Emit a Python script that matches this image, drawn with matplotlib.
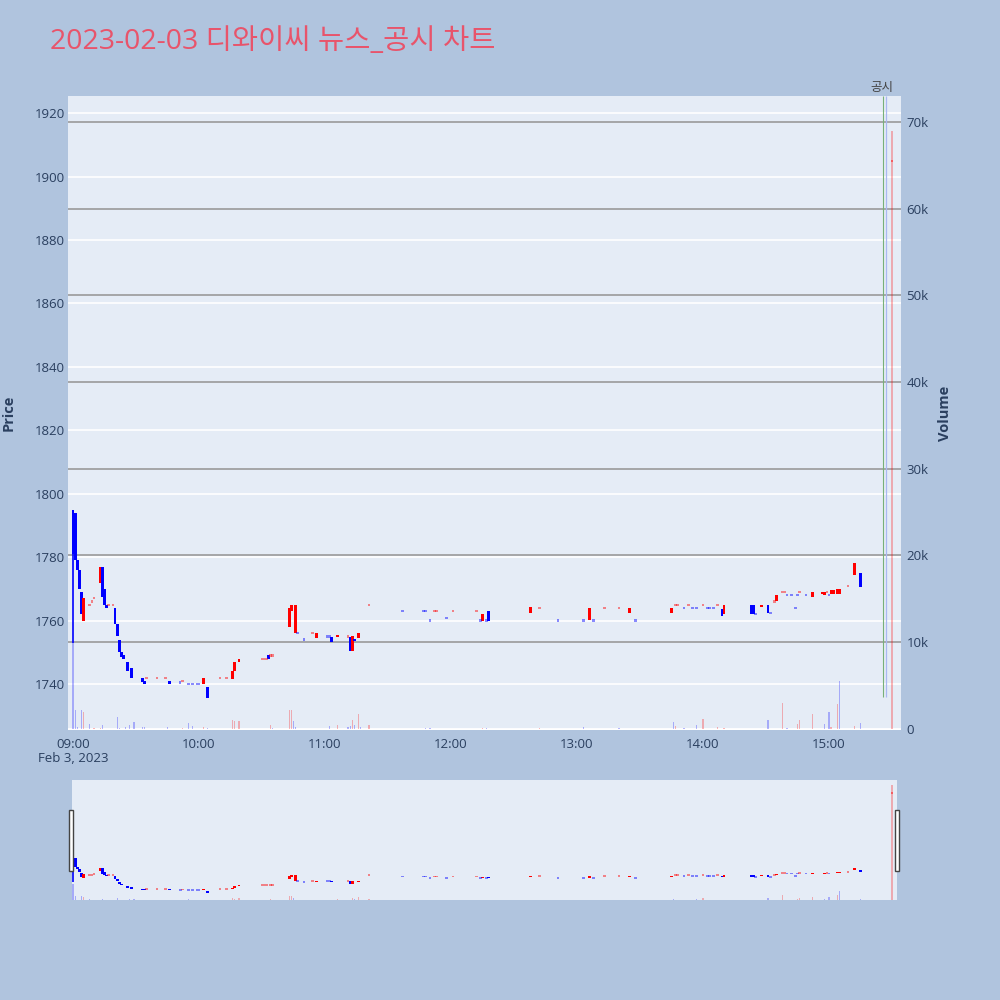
import numpy as np
import pandas as pd
import matplotlib
matplotlib.use('Agg')
import matplotlib.pyplot as plt
import matplotlib.dates as mdates
import matplotlib.transforms as mtransforms
from matplotlib.patches import Rectangle

plt.rcParams['font.family'] = ['Open Sans', 'Noto Sans CJK KR', 'DejaVu Sans']

DAY = '2023-02-03'
title = '2023-02-03 디와이씨 뉴스_공시 차트'

# 분봉 (시각, 시가, 종가, 방향)
c_time = ['09:00', '09:01', '09:02', '09:03', '09:04', '09:05', '09:08', '09:09', '09:10', '09:13',
          '09:14', '09:15', '09:16', '09:17', '09:19', '09:20', '09:21', '09:22', '09:23', '09:24',
          '09:26', '09:28', '09:33', '09:34', '09:35', '09:40', '09:44', '09:46', '09:51', '09:52',
          '09:55', '09:57', '09:59', '10:00', '10:02', '10:04', '10:10', '10:13', '10:16', '10:17',
          '10:19', '10:30', '10:31', '10:32', '10:33', '10:34', '10:35', '10:43', '10:44', '10:46',
          '10:47', '10:50', '10:54', '10:56', '11:01', '11:02', '11:03', '11:06', '11:11', '11:12',
          '11:13', '11:14', '11:16', '11:21', '11:37', '11:47', '11:48', '11:50', '11:52', '11:53',
          '11:58', '12:01', '12:12', '12:14', '12:15', '12:17', '12:18', '12:38', '12:42', '12:51',
          '13:03', '13:06', '13:08', '13:13', '13:20', '13:25', '13:28', '13:45', '13:47', '13:48',
          '13:51', '13:53', '13:55', '13:57', '14:00', '14:02', '14:03', '14:05', '14:07', '14:09',
          '14:10', '14:23', '14:24', '14:25', '14:28', '14:31', '14:32', '14:34', '14:35', '14:38',
          '14:39', '14:40', '14:42', '14:44', '14:45', '14:46', '14:49', '14:52', '14:57', '14:58',
          '14:59', '15:00', '15:01', '15:02', '15:04', '15:05', '15:09', '15:12', '15:15', '15:30']
c_open = [1795, 1794, 1779, 1776, 1769, 1760, 1765, 1766, 1767, 1772,
          1777, 1770, 1765, 1765, 1765, 1764, 1759, 1754, 1750, 1749,
          1747, 1745, 1742, 1741, 1742, 1742, 1742, 1741, 1740.5, 1741,
          1740, 1740, 1740, 1740, 1740, 1739, 1742, 1742, 1741.5, 1744,
          1747, 1748, 1748, 1748, 1749, 1749, 1749, 1758, 1763, 1756,
          1756, 1754, 1756, 1754.5, 1755, 1755, 1754.7, 1754.8, 1755, 1754.7,
          1750.5, 1754.3, 1754.4, 1765, 1763, 1763, 1763, 1760, 1763, 1763,
          1760.7, 1763, 1763, 1760, 1760, 1760, 1763, 1762.5, 1764, 1760,
          1760, 1760.3, 1760, 1764, 1764, 1762.5, 1760, 1762.5, 1765, 1765,
          1764, 1765, 1764, 1764, 1765, 1764, 1764, 1764, 1765, 1763.5,
          1762, 1765, 1765, 1762, 1764.2, 1765, 1762.5, 1766, 1766.3, 1769,
          1769, 1768, 1768, 1764, 1768, 1769, 1768, 1767.5, 1768.5, 1768,
          1769, 1768, 1768.5, 1768.5, 1768.4, 1768.4, 1771, 1774.4, 1775, 1905]
c_close = [1781, 1779, 1776, 1770, 1762, 1767, 1765, 1766, 1767, 1777,
           1767.5, 1765, 1764, 1765, 1765, 1759, 1755, 1750, 1748.5, 1748,
           1744, 1742, 1740.6, 1740, 1742, 1742, 1742, 1740, 1740.5, 1741,
           1740, 1740, 1740, 1740, 1742, 1735.5, 1742, 1742, 1744, 1747,
           1748, 1748, 1748, 1748, 1748, 1749, 1749, 1764, 1765, 1765,
           1756, 1754, 1756, 1756, 1755, 1755, 1753.3, 1755.6, 1755, 1750.5,
           1755, 1753.7, 1756.2, 1765, 1763, 1763, 1763, 1760, 1763, 1763,
           1760.7, 1763, 1763, 1760, 1762, 1760, 1760, 1764.3, 1764, 1760,
           1760, 1764, 1760, 1764, 1764, 1764, 1760, 1764, 1765, 1765,
           1764, 1765, 1764, 1764, 1765, 1764, 1764, 1764, 1765, 1761.6,
           1765, 1762, 1762, 1762, 1765, 1762.5, 1762.5, 1766, 1768, 1769,
           1769, 1768, 1768, 1764, 1768, 1769, 1768, 1769, 1769, 1769,
           1769, 1768, 1769.5, 1769.5, 1770, 1770, 1771, 1778, 1770.5, 1905]
c_dir = list('ddddduuuuu' 'ddduuddddd' 'dddduuuddu' 'dddduduuuu' 'uuuuduuuuu'
             'dduuddduud' 'uduudddduu' 'duududduud' 'duduuuduuu' 'duddudddud'
             'udddudduuu' 'udddduduuu' 'uduuuuuudu')

# 첫 봉 꼬리
wick_time = ['09:00']
wick_high = [1795]
wick_low = [1753]

# 거래량
v_time = ['09:00', '09:01', '09:02', '09:04', '09:05', '09:08', '09:10', '09:13', '09:14', '09:21',
          '09:22', '09:25', '09:27', '09:29', '09:33', '09:34', '09:45', '09:52', '09:55', '09:57',
          '10:02', '10:04', '10:16', '10:17', '10:19', '10:34', '10:35', '10:43', '10:44', '10:45',
          '10:46', '11:02', '11:06', '11:11', '11:12', '11:13', '11:14', '11:16', '11:17', '11:21',
          '11:48', '11:50', '12:15', '12:17', '12:42', '13:03', '13:20', '13:46', '13:47', '13:51',
          '13:57', '14:00', '14:07', '14:10', '14:31', '14:38', '14:40', '14:45', '14:46', '14:52',
          '14:58', '15:00', '15:01', '15:04', '15:05', '15:12', '15:15', '15:30']
v_value = [9900, 2150, 230, 2150, 1960, 540, 100, 100, 460, 1380,
           100, 230, 380, 800, 150, 120, 230, 80, 600, 300,
           230, 100, 1000, 850, 920, 460, 80, 2150, 2150, 920,
           150, 300, 460, 230, 300, 1000, 460, 1700, 150, 460,
           50, 50, 80, 80, 50, 200, 50, 700, 300, 100,
           400, 1060, 150, 100, 980, 2900, 100, 500, 1000, 1640,
           500, 1940, 200, 2800, 5500, 300, 670, 69000]
v_dir = list('dddduduudd' 'dddddddudd' 'uduuuuduud' 'dduddududu'
             'ddududddud' 'duuududuuu' 'dduududu')

# 공시 표시선
notice_time = '15:26'
notice_low = 1736
notice2_time = '15:27'

price_ticks = [1740, 1760, 1780, 1800, 1820, 1840, 1860, 1880, 1900, 1920]
vol_ticks = [0, 10000, 20000, 30000, 40000, 50000, 60000, 70000]
vol_labels = ['0', '10k', '20k', '30k', '40k', '50k', '60k', '70k']
hour_ticks = ['09:00', '10:00', '11:00', '12:00', '13:00', '14:00', '15:00']

RED = '#ff0000'
BLUE = '#0000ff'
BG = '#e5ecf6'
TXT = '#2a3f5f'
MIN = 1 / 1440


def tnum(ts):
    return mdates.date2num(pd.to_datetime([DAY + ' ' + t for t in ts]).to_pydatetime())


cx = tnum(c_time)
vx = tnum(v_time)
wx = tnum(wick_time)
t0 = tnum(['09:00'])[0]


def draw_candles(ax, flat_h):
    opens = np.array(c_open, dtype=float)
    closes = np.array(c_close, dtype=float)
    up = np.array(c_dir) == 'u'
    flat = opens == closes
    cols = np.where(up, RED, BLUE)
    body = ~flat
    ax.bar(cx[body], (closes - opens)[body], bottom=opens[body], width=1.3 * MIN,
           color=cols[body], linewidth=0, zorder=3)
    ax.bar(cx[flat], flat_h, bottom=opens[flat] - flat_h / 2, width=1.3 * MIN,
           color=cols[flat], alpha=0.45, linewidth=0, zorder=3)
    ax.vlines(wx, wick_low, wick_high, color=BLUE, lw=1.2, zorder=3)


def draw_volume(ax):
    cols = np.where(np.array(v_dir) == 'u', RED, BLUE)
    ax.bar(vx, v_value, width=0.6 * MIN, color=cols, alpha=0.28, linewidth=0, zorder=2)


fig = plt.figure(figsize=(10, 10), dpi=100, facecolor='#b0c4de')

# 메인 차트
ax_v = fig.add_axes([0.068, 0.27, 0.833, 0.634], facecolor=BG)
ax_p = ax_v.twinx()
p_lim = (1725.5, 1925.4)
v_lim = (-170, 73000)
ax_v.set_ylim(*v_lim)
ax_p.set_ylim(*p_lim)
ax_v.set_xlim(t0 - 2.4 * MIN, t0 + 394.3 * MIN)

for p in price_ticks:
    f = (p - p_lim[0]) / (p_lim[1] - p_lim[0])
    ax_v.plot([0, 1], [f, f], transform=ax_v.transAxes, color='white', lw=1.2, zorder=0.5)
for v in vol_ticks[1:]:
    ax_v.axhline(v, color='#9a9a9a', lw=1.2, zorder=0.6)
ax_v.axhline(0, color='white', lw=2, zorder=0.6)

draw_volume(ax_v)
draw_candles(ax_p, 0.7)

nx, n2x = tnum([notice_time, notice2_time])
ax_p.vlines(nx - 0.3 * MIN, notice_low, p_lim[1], color='#78b078', lw=0.8, zorder=4)
ax_p.vlines(n2x + 0.1 * MIN, notice_low, p_lim[1], color='#a9b8f2', lw=0.9, zorder=4)
blend = mtransforms.blended_transform_factory(ax_p.transData, ax_p.transAxes)
ax_p.text(nx - 1 * MIN, 1.003, '공시', transform=blend, ha='center', va='bottom',
          fontsize=9, color='#444444')

ax_p.yaxis.set_ticks_position('left')
ax_p.yaxis.set_label_position('left')
ax_p.set_yticks(price_ticks)
ax_p.set_yticklabels([str(p) for p in price_ticks])
ax_v.yaxis.set_ticks_position('right')
ax_v.set_yticks(vol_ticks)
ax_v.set_yticklabels(vol_labels)
ax_v.set_xticks(tnum(hour_ticks))
ax_v.set_xticklabels(hour_ticks)
ax_p.tick_params(axis='y', length=0, pad=2, labelsize=9.5, labelcolor=TXT)
ax_v.tick_params(axis='y', length=0, pad=4, labelsize=9.5, labelcolor=TXT)
ax_v.tick_params(axis='x', length=0, pad=6, labelsize=9.5, labelcolor=TXT)
for a in (ax_v, ax_p):
    for s in a.spines.values():
        s.set_visible(False)

fig.text(0.073, 0.242, 'Feb 3, 2023', ha='center', va='center', fontsize=9.5, color=TXT)
fig.text(0.009, 0.587, 'Price', rotation=90, ha='center', va='center',
         fontsize=10.5, fontweight='bold', color=TXT)
fig.text(0.945, 0.587, 'Volume', rotation=90, ha='center', va='center',
         fontsize=10.5, fontweight='bold', color=TXT)
fig.text(0.05, 0.958, title, ha='left', va='center', fontsize=20.5, color='#e8546b')

# 레인지 슬라이더
ax_s = fig.add_axes([0.072, 0.1, 0.825, 0.12], facecolor=BG)
ax_s2 = ax_s.twinx()
ax_s.set_xlim(t0 - 0.5 * MIN, t0 + 392.4 * MIN)
ax_s.set_ylim(0, 72000)
ax_s2.set_ylim(1723, 1927.6)
draw_volume(ax_s)
draw_candles(ax_s2, 3.0)
for a in (ax_s, ax_s2):
    a.set_xticks([])
    a.set_yticks([])
    for s in a.spines.values():
        s.set_visible(False)

for hx in (0.069, 0.895):
    fig.patches.append(Rectangle((hx, 0.1293), 0.0042, 0.0607, transform=fig.transFigure,
                                 facecolor='white', edgecolor='#444444', lw=1, zorder=10))

fig.savefig('out.png', dpi=100, facecolor=fig.get_facecolor())
